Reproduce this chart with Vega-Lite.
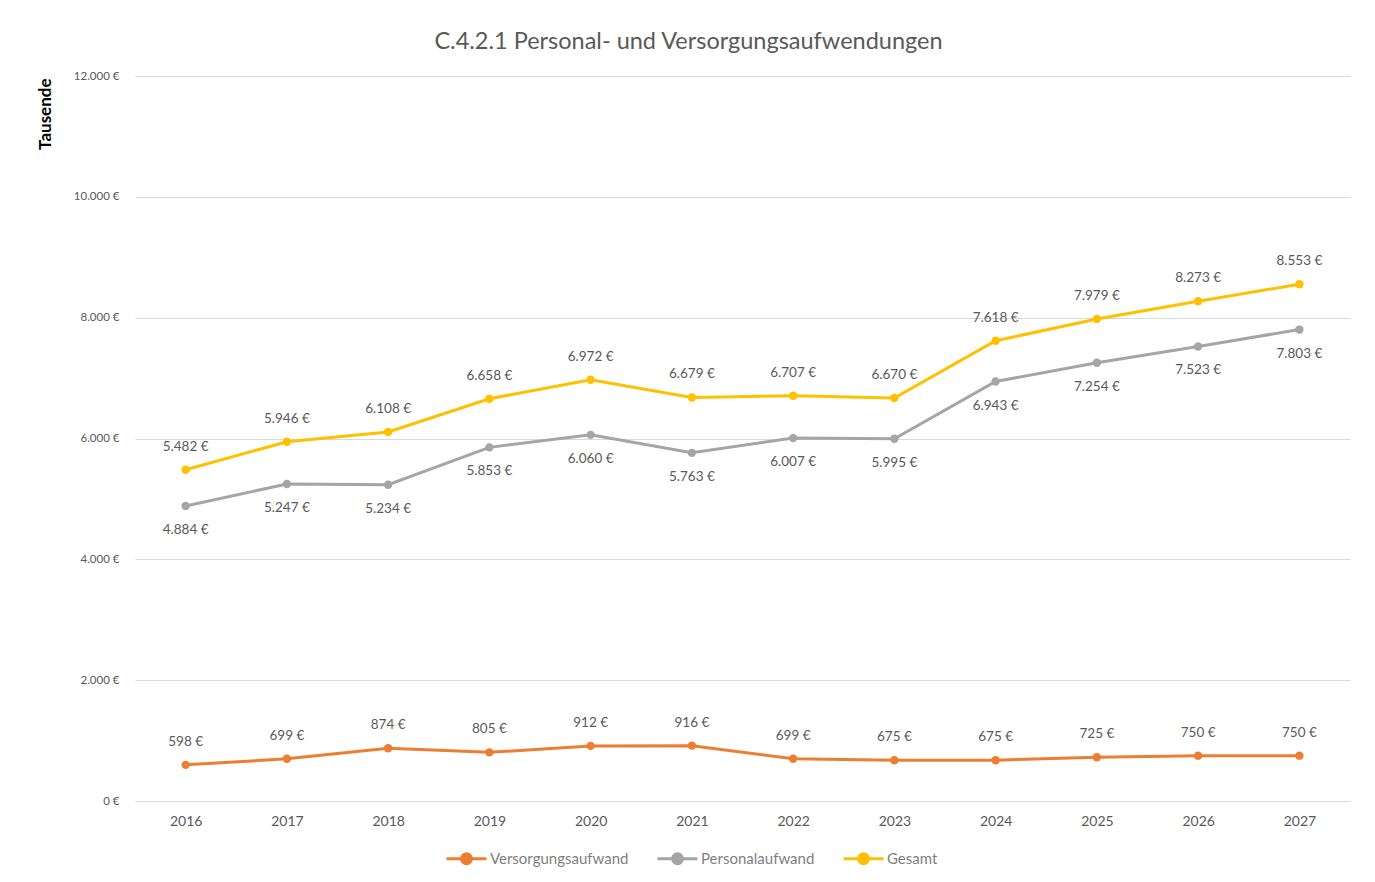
{
  "$schema": "https://vega.github.io/schema/vega-lite/v6.json",
  "width": 1215,
  "height": 725,
  "autosize": {"type": "none"},
  "padding": {"left": 135, "top": 76, "right": 25, "bottom": 81},
  "background": "white",
  "config": {
    "font": "Lato",
    "view": {"stroke": null},
    "locale": {"number": {"decimal": ",", "thousands": ".", "grouping": [3], "currency": ["", " €"]}}
  },
  "title": {
    "text": "C.4.2.1 Personal- und Versorgungsaufwendungen",
    "fontSize": 23.5,
    "fontWeight": "normal",
    "color": "#595959",
    "anchor": "middle",
    "frame": "group",
    "dx": -54,
    "offset": 17
  },
  "data": {
    "values": [
      {"year": "2016", "series": "Versorgungsaufwand", "value": 598},
      {"year": "2017", "series": "Versorgungsaufwand", "value": 699},
      {"year": "2018", "series": "Versorgungsaufwand", "value": 874},
      {"year": "2019", "series": "Versorgungsaufwand", "value": 805},
      {"year": "2020", "series": "Versorgungsaufwand", "value": 912},
      {"year": "2021", "series": "Versorgungsaufwand", "value": 916},
      {"year": "2022", "series": "Versorgungsaufwand", "value": 699},
      {"year": "2023", "series": "Versorgungsaufwand", "value": 675},
      {"year": "2024", "series": "Versorgungsaufwand", "value": 675},
      {"year": "2025", "series": "Versorgungsaufwand", "value": 725},
      {"year": "2026", "series": "Versorgungsaufwand", "value": 750},
      {"year": "2027", "series": "Versorgungsaufwand", "value": 750},
      {"year": "2016", "series": "Personalaufwand", "value": 4884},
      {"year": "2017", "series": "Personalaufwand", "value": 5247},
      {"year": "2018", "series": "Personalaufwand", "value": 5234},
      {"year": "2019", "series": "Personalaufwand", "value": 5853},
      {"year": "2020", "series": "Personalaufwand", "value": 6060},
      {"year": "2021", "series": "Personalaufwand", "value": 5763},
      {"year": "2022", "series": "Personalaufwand", "value": 6007},
      {"year": "2023", "series": "Personalaufwand", "value": 5995},
      {"year": "2024", "series": "Personalaufwand", "value": 6943},
      {"year": "2025", "series": "Personalaufwand", "value": 7254},
      {"year": "2026", "series": "Personalaufwand", "value": 7523},
      {"year": "2027", "series": "Personalaufwand", "value": 7803},
      {"year": "2016", "series": "Gesamt", "value": 5482},
      {"year": "2017", "series": "Gesamt", "value": 5946},
      {"year": "2018", "series": "Gesamt", "value": 6108},
      {"year": "2019", "series": "Gesamt", "value": 6658},
      {"year": "2020", "series": "Gesamt", "value": 6972},
      {"year": "2021", "series": "Gesamt", "value": 6679},
      {"year": "2022", "series": "Gesamt", "value": 6707},
      {"year": "2023", "series": "Gesamt", "value": 6670},
      {"year": "2024", "series": "Gesamt", "value": 7618},
      {"year": "2025", "series": "Gesamt", "value": 7979},
      {"year": "2026", "series": "Gesamt", "value": 8273},
      {"year": "2027", "series": "Gesamt", "value": 8553}
    ]
  },
  "encoding": {
    "x": {
      "field": "year",
      "type": "ordinal",
      "scale": {"type": "point", "padding": 0.5},
      "axis": {
        "title": null,
        "labelAngle": 0,
        "labelFontSize": 14,
        "labelColor": "#595959",
        "labelPadding": 13,
        "ticks": false,
        "domainColor": "#D9D9D9",
        "grid": false
      }
    },
    "y": {
      "field": "value",
      "type": "quantitative",
      "scale": {"domain": [0, 12000], "nice": false},
      "axis": {
        "values": [0, 2000, 4000, 6000, 8000, 10000, 12000],
        "format": "$,.0f",
        "title": "Tausende",
        "titleFontSize": 17,
        "titleFontWeight": "bold",
        "titleColor": "#000000",
        "titleAngle": -90,
        "titleX": -90,
        "titleY": 2,
        "titleAlign": "right",
        "titleBaseline": "middle",
        "labelFontSize": 11.5,
        "labelColor": "#595959",
        "labelPadding": 16,
        "ticks": false,
        "domain": false,
        "gridColor": "#D9D9D9",
        "gridWidth": 1
      }
    },
    "color": {
      "field": "series",
      "type": "nominal",
      "scale": {
        "domain": ["Versorgungsaufwand", "Personalaufwand", "Gesamt"],
        "range": ["#ED7D31", "#A5A5A5", "#FFC000"]
      },
      "legend": {
        "title": null,
        "orient": "none",
        "legendX": 310,
        "legendY": 761,
        "direction": "horizontal",
        "labelFontSize": 15,
        "labelColor": "#7F7F7F",
        "symbolType": "M-1,0H1M-0.25,0A0.25,0.25 0 1,1 0.25,0A0.25,0.25 0 1,1 -0.25,0Z",
        "symbolSize": 1600,
        "symbolStrokeWidth": 3,
        "columnPadding": 22,
        "labelOffset": 2
      }
    }
  },
  "layer": [
    {
      "mark": {"type": "line", "strokeWidth": 3}
    },
    {
      "mark": {"type": "point", "filled": true, "size": 70, "opacity": 1}
    },
    {
      "transform": [{"filter": "datum.series !== 'Personalaufwand'"}],
      "mark": {"type": "text", "dy": -23, "fontSize": 13.5, "color": "#595959"},
      "encoding": {
        "text": {"field": "value", "type": "quantitative", "format": "$,.0f"},
        "color": {"value": "#595959"}
      }
    },
    {
      "transform": [{"filter": "datum.series === 'Personalaufwand'"}],
      "mark": {"type": "text", "dy": 24, "fontSize": 13.5, "color": "#595959"},
      "encoding": {
        "text": {"field": "value", "type": "quantitative", "format": "$,.0f"},
        "color": {"value": "#595959"}
      }
    }
  ]
}
